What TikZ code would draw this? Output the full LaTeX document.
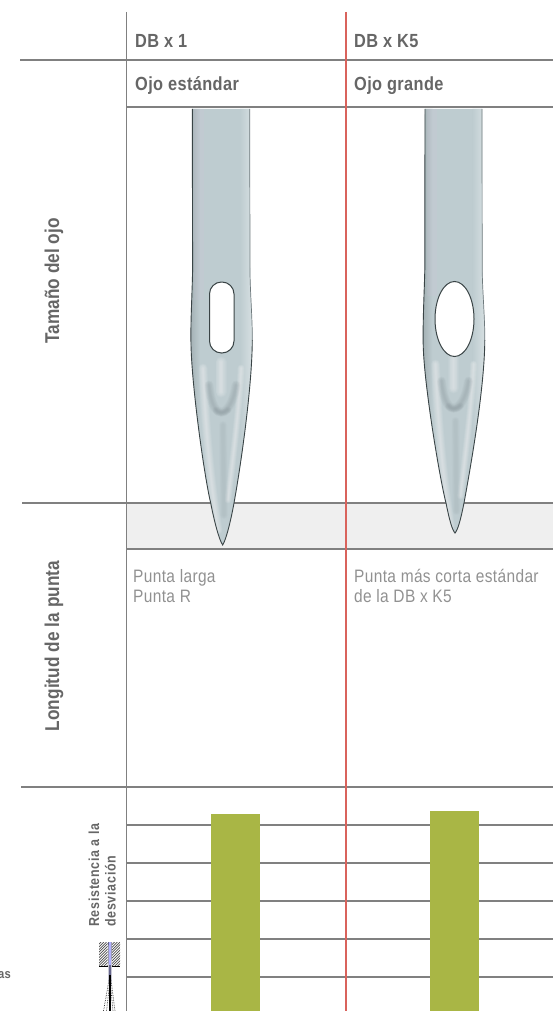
\documentclass[tikz,border=0pt]{standalone}
\usepackage{fontspec}
\setmainfont{Liberation Sans}
\newfontfamily\headfont[FakeStretch=0.86,LetterSpace=2]{Liberation Sans}
\newfontfamily\sidefont[FakeStretch=0.86,LetterSpace=0.5]{Liberation Sans}
\newfontfamily\smallfont[FakeStretch=0.86,LetterSpace=5]{Liberation Sans}
\newfontfamily\bodyfont[FakeStretch=0.86,LetterSpace=2]{Liberation Sans}
\usetikzlibrary{calc}
\definecolor{rulegray}{HTML}{808080}
\definecolor{redrule}{HTML}{D9635C}
\definecolor{band}{HTML}{EFEFEF}
\definecolor{bargreen}{HTML}{A9B645}
\definecolor{txt}{HTML}{666666}
\definecolor{lighttxt}{HTML}{919191}
\definecolor{steel}{HTML}{BECCD0}
\definecolor{steeld}{HTML}{8E9BA1}
\definecolor{edge}{HTML}{3A4446}
\tikzset{
 rule/.style={draw=rulegray,line width=1.2pt},
 redline/.style={draw=redrule,line width=1.4pt},
 head/.style={font=\headfont\bfseries\fontsize{19}{21}\selectfont,text=txt,anchor=base west,inner sep=0pt},
 side/.style={font=\sidefont\bfseries\fontsize{20}{22}\selectfont,text=txt,rotate=90,inner sep=0pt},
 small/.style={font=\smallfont\bfseries\fontsize{14.5}{16.5}\selectfont,text=txt,rotate=90,inner sep=0pt,align=left,anchor=south west},
 body/.style={font=\bodyfont\fontsize{18}{20}\selectfont,text=lighttxt,anchor=north west,inner sep=0pt,align=left},
 barbox/.style={fill=bargreen,draw=none},
 soft/.style={line cap=round,draw=#1,opacity=.07},
}
% blurred stroke: colour, width, path
\newcommand{\blurstroke}[3]{%
 \foreach \w in {1,0.86,0.72,0.58,0.44,0.3,0.16}{\draw[soft=#1,line width=\w*#2 pt] #3;}}
\newcommand{\needleart}{%
 \shade[left color=edge!25!steel,right color=steel] (188,100) rectangle (200,560);
 \fill[white!75!violet,opacity=.10] (194,100) rectangle (204,300);
 \shade[left color=steel,right color=white!50!steel] (240,100) rectangle (256,560);
 \blurstroke{white}{9}{(203,368) .. controls (205,420) and (210,480) .. (218,530)}
 \blurstroke{white}{7}{(241,368) .. controls (240,400) and (234,450) .. (228,500)}
 \blurstroke{white}{11}{(221,362) -- (221,392)}
 \blurstroke{steeld}{9}{(209,385) .. controls (211,405) and (216,412) .. (221,412) .. controls (226,412) and (233,405) .. (236,385)}
 \blurstroke{steeld}{7}{(216,410) .. controls (218,414) and (224,414) .. (228,410)}
 \blurstroke{steeld!45!steel}{8}{(223,425) -- (224,515)}
}
\begin{document}
\begin{tikzpicture}[x=1pt,y=-1pt]
\useasboundingbox (0,0) rectangle (553,1011);
% named table corners
\coordinate (vgT) at (126.5,12);   \coordinate (vgB) at (126.5,1011);
\coordinate (vrT) at (346,12);     \coordinate (vrB) at (346,1011);
\fill[band] (127,504) rectangle (553,549);
% horizontal rules
\draw[rule] (20,60) -- (553,60);
\draw[rule] (126.5,107) -- (553,107);
\draw[rule] (22,503) -- (553,503);
\draw[rule] (126.5,549) -- (553,549);
\draw[rule] (21,787) -- (553,787);
\foreach \yy in {825,863,901,939,977} \draw[rule] (126.5,\yy) -- (553,\yy);
% bars
\fill[barbox] (211,814) rectangle (260,1011);
\fill[barbox] (430,811) rectangle (479,1011);
% verticals
\draw[rule] (vgT) -- (vgB);
\draw[redline] (vrT) -- (vrB);
% needle 1
\begin{scope}
 \fill[steel] (192.3,109) -- (192.6,270) .. controls (192,300) and (190.5,320) .. (191,345) .. controls (192,390) and (205,480) .. (210.7,503) .. controls (214,520) and (219,540) .. (222.7,545) .. controls (226,540) and (231,520) .. (234,503) .. controls (240,470) and (252,390) .. (252.3,340) .. controls (252.5,320) and (250,290) .. (250,270) -- (249.7,109) -- cycle;
 \clip (192.3,109) -- (192.6,270) .. controls (192,300) and (190.5,320) .. (191,345) .. controls (192,390) and (205,480) .. (210.7,503) .. controls (214,520) and (219,540) .. (222.7,545) .. controls (226,540) and (231,520) .. (234,503) .. controls (240,470) and (252,390) .. (252.3,340) .. controls (252.5,320) and (250,290) .. (250,270) -- (249.7,109) -- cycle;
 \needleart
\end{scope}
\draw[edge,line width=.9pt] (192.3,109) -- (192.6,270) .. controls (192,300) and (190.5,320) .. (191,345) .. controls (192,390) and (205,480) .. (210.7,503) .. controls (214,520) and (219,540) .. (222.7,545) .. controls (226,540) and (231,520) .. (234,503) .. controls (240,470) and (252,390) .. (252.3,340);
\draw[edge!60!steel,line width=.7pt] (252.3,340) .. controls (252.5,320) and (250,290) .. (250,270) -- (249.7,109);
\draw[edge,line width=1pt,fill=white,rounded corners=12pt] (209.5,282) rectangle (234,353);
% needle 2
\begin{scope}
 \clip (425,109) -- (424.8,270) .. controls (424,300) and (422.8,320) .. (423.2,345) .. controls (424,385) and (440,480) .. (446,503) .. controls (449,518) and (452,530) .. (455,533) .. controls (458,530) and (461,518) .. (464,503) .. controls (470,470) and (484.5,390) .. (484.8,340) .. controls (485,320) and (482.4,290) .. (482.2,270) -- (482,109) -- cycle;
 \fill[steel] (410,100) rectangle (500,560);
 \begin{scope}[xshift=232.5pt,yshift=4pt]\needleart\end{scope}
\end{scope}
\draw[edge,line width=.9pt] (425,109) -- (424.8,270) .. controls (424,300) and (422.8,320) .. (423.2,345) .. controls (424,385) and (440,480) .. (446,503) .. controls (449,518) and (452,530) .. (455,533) .. controls (458,530) and (461,518) .. (464,503) .. controls (470,470) and (484.5,390) .. (484.8,340);
\draw[edge!60!steel,line width=.7pt] (484.8,340) .. controls (485,320) and (482.4,290) .. (482.2,270) -- (482,109);
\draw[edge,line width=1pt,fill=white] (454.5,319) ellipse [x radius=19.5,y radius=37.5];
% headings
\node[head] (h1) at (135,47.5) {DB x 1};
\node[head] (h2) at (354,47.5) {DB x K5};
\node[head] (s1) at (135,91) {Ojo estándar};
\node[head] (s2) at (354,91) {Ojo grande};
\node[side] (l1) at (54,281) {Tamaño del ojo};
\node[side] (l2) at (54,646) {Longitud de la punta};
\node[small] (l3) at (116,927) {Resistencia a la\\desviación};
\node[body] (b1) at (133,569) {Punta larga\\Punta R};
\node[body] (b2) at (354,569) {Punta más corta estándar\\de la DB x K5};
\node[font=\headfont\bfseries\fontsize{13}{15}\selectfont,text=txt,anchor=base east,inner sep=0pt] (as) at (11,978) {as};
% small needle icon
\begin{scope}
 \clip (99,942) rectangle (107.5,966.5) (112,942) rectangle (120,966.5);
 \foreach \k in {-30,-27.3,...,30} \draw[black!70,line width=.7pt] (95+\k,970) -- (123+\k,942);
\end{scope}
\draw[black,line width=.8pt] (99,966.5) -- (107.5,966.5);
\draw[black,line width=.8pt] (112,966.5) -- (120,966.5);
\fill[black!75!blue!60!white] (108.2,942) -- (111.7,942) -- (111.2,985) -- (108.8,985) -- cycle;
\fill[white!70!blue] (109.2,942) rectangle (110.6,965);
\draw[black!80,densely dotted,line width=.7pt] (109,980) -- (103.5,1011);
\draw[black!80,densely dotted,line width=.7pt] (111,980) -- (115,1011);
\draw[black!80,densely dotted,line width=.7pt] (109.5,985) -- (106.5,1011);
\draw[black!80,densely dotted,line width=.7pt] (110.5,985) -- (113,1011);
\fill[black] (109,975) rectangle (111,1011);
\end{tikzpicture}
\end{document}
